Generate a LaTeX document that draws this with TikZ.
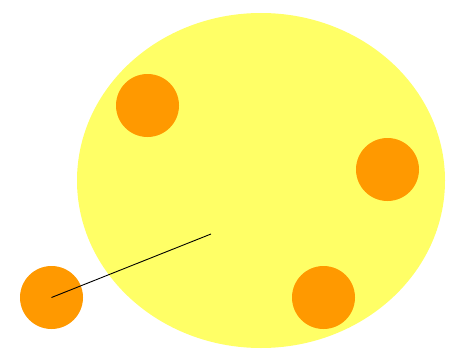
\documentclass[tikz,border=0pt]{standalone}
\usepackage{xcolor}
\usepackage{tikz}
\usetikzlibrary{shapes.geometric}
\definecolor{paleyellow}{HTML}{FFFF66}
\definecolor{deeporange}{HTML}{FF9900}

\begin{document}
\begin{tikzpicture}[x=1pt,y=-1pt,
  body/.style={ellipse,fill=paleyellow,draw=none,inner sep=0pt,minimum width=368pt,minimum height=335pt},
  spot/.style={circle,fill=deeporange,draw=none,inner sep=0pt,minimum size=63pt}]
  \useasboundingbox (0,0) rectangle (452,353);
  \node[body] (blob) at (261,180.5) {};
  \node[spot] (s1) at (147.5,105.5) {};
  \node[spot] (s2) at (387.5,169.5) {};
  \node[spot] (s3) at (323.5,297.5) {};
  \node[spot] (s4) at (51.5,297.5) {};
  \coordinate (tip) at (211,234);
  \draw[black,line width=0.9pt] (s4.center) -- (tip);
\end{tikzpicture}
\end{document}
